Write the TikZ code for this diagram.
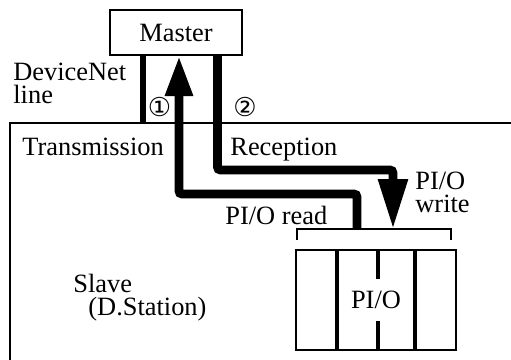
\documentclass[tikz,border=0pt]{standalone}
\usepackage{fontspec}
\setmainfont{Liberation Serif}
\newfontfamily\circfont{DejaVu Sans}
\usetikzlibrary{arrows.meta}

\begin{document}
\begin{tikzpicture}[x=0.5pt, y=-0.5pt,
    every node/.style={font=\fontsize{13.2}{11.5}\selectfont, inner sep=0pt},
    box/.style={rectangle, draw=black, line width=1pt},
    txt/.style={anchor=base west, align=left},
    num/.style={font=\circfont\fontsize{13}{13}\selectfont},
    busline/.style={line width=4.4pt, rounded corners=1.5pt},
    netline/.style={line width=2.8pt},
    slot/.style={line width=2pt}
]
\useasboundingbox (0,0) rectangle (511,360);

% Master and slave frame
\node[box, minimum width=66pt, minimum height=22.5pt] (master) at (176,32.5) {Master};
\draw[line width=1pt] (10,360) -- (10,123) -- (511,123);
\coordinate (slavetop) at (143,123);

% PI/O unit
\node[box, minimum width=80pt, minimum height=50pt] (pio) at (376,300) {PI/O};
\draw[slot] ([xshift=-19.5pt]pio.north) -- ([xshift=-19.5pt]pio.south);
\draw[slot] ([xshift=19.5pt]pio.north) -- ([xshift=19.5pt]pio.south);
\draw[slot] ([xshift=1pt]pio.north) -- ++(0,30);
\draw[slot] ([xshift=1pt]pio.south) -- ++(0,-30);

% Bracket over the unit
\coordinate (bracketL) at (297,229);
\coordinate (bracketR) at (451,229);
\draw[line width=1pt] (297,240) -- (bracketL) -- (bracketR) -- (451,240);
\coordinate (readsrc) at (357,229);
\coordinate (writedst) at (393,229);

% DeviceNet line
\draw[netline] ([xshift=-16.5pt]master.south) -- (slavetop);

% Data flow
\draw[busline, -{Triangle[width=13pt, length=20pt]}] (readsrc) -- (357,194) -- (179,194) -- ([xshift=1.5pt]master.south);
\draw[busline, -{Triangle[width=14pt, length=25pt]}] ([xshift=20.75pt]master.south) -- (217.5,170) -- (393,170) -- (writedst);

% Labels
\node[txt] (devnet) at (13,103) {DeviceNet\\line};
\node[num] (one) at (159.5,107.5) {①};
\node[num] (two) at (245,107.5) {②};
\node[txt] (trans) at (22,155) {Transmission};
\node[txt] (recep) at (230,155) {Reception};
\node[txt] (pwrite) at (415,212) {PI/O\\write};
\node[txt] (pread) at (225,224) {PI/O read};
\node[txt] (slave) at (73,315) {Slave\\\hspace*{7.5pt}(D.Station)};

\end{tikzpicture}
\end{document}
